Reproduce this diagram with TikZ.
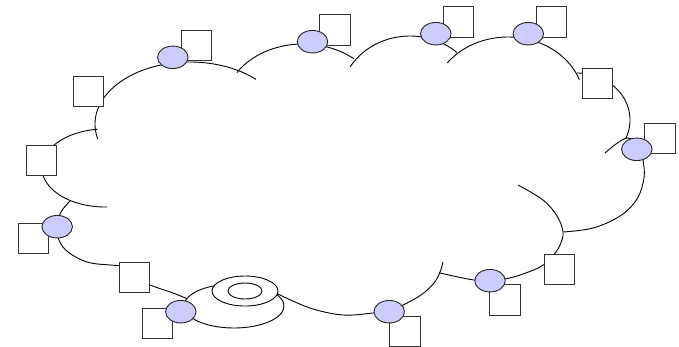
\documentclass[tikz,border=0pt]{standalone}
\usetikzlibrary{shapes.geometric}
\definecolor{lav}{RGB}{204,204,255}
\begin{document}
\begin{tikzpicture}[x=1pt,y=-1pt,
  puff/.style={draw=black, line width=0.9pt},
  box/.style={rectangle, draw=black!80, line width=1pt, fill=white, minimum size=30.3pt, inner sep=0pt},
  port/.style={ellipse, draw=black!85, line width=0.9pt, fill=lav, minimum width=30.5pt, minimum height=22.5pt, inner sep=0pt},
  disk/.style={ellipse, draw=black, line width=0.9pt, fill=white, inner sep=0pt}]
\useasboundingbox (0,0) rectangle (679,346);
% cloud outline
\draw[puff] plot[domain=166:314, samples=60, variable=\t] ({190+95*cos(\t)}, {124+62*sin(\t)});
\draw[puff] plot[domain=88:263, samples=60, variable=\t] ({105+63*cos(\t)}, {168+39*sin(\t)});
\draw[puff] plot[domain=212:311, samples=50, variable=\t] ({303+78*cos(\t)}, {105+61*sin(\t)});
\draw[puff] plot[domain=211:312, samples=50, variable=\t] ({410+70*cos(\t)}, {100+64*sin(\t)});
\draw[puff] plot[domain=217:340, samples=50, variable=\t] ({508+76*cos(\t)}, {102+65*sin(\t)});
\draw[puff] plot[domain=270:383, samples=50, variable=\t] ({577+53*cos(\t)}, {120+47*sin(\t)});
\draw[puff] plot[smooth, tension=0.6] coordinates {(605,153) (616,144) (628,138) (639,145) (643,160) (644,178) (637,199) (620,216) (593,228) (563,232)};
\draw[puff] plot[smooth, tension=0.6] coordinates {(518,185) (543,200) (557,216) (563,232) (560,245) (552,257) (540,267) (520,275) (505,279) (490,281) (474,280) (458,277) (440,273)};
\draw[puff] plot[smooth, tension=0.6] coordinates {(278,294) (310,308) (343,315) (373,313) (389,311) (403,305) (421,295) (434,283) (440,272) (443,262)};
\draw[puff] plot[smooth, tension=0.6] coordinates {(70,201) (61,212) (57,226) (59,240) (68,252) (87,262) (110,265) (130,266)};
\draw[puff] plot[smooth, tension=0.6] coordinates {(132,277) (150,285) (173,293) (188,299)};
% ring
\node[disk, minimum width=100pt, minimum height=44pt] (rb) at (234,306) {};
\node[disk, minimum width=66pt, minimum height=30pt] (ro) at (245,291) {};
\node[disk, minimum width=34pt, minimum height=16pt] (ri) at (245,291) {};
% boxes
\node[box] (s1) at (196.2,45.5) {};
\node[box] (s2) at (88.2,91.5) {};
\node[box] (s3) at (41.7,160.8) {};
\node[box] (s4) at (335,30) {};
\node[box] (s5) at (458.5,22) {};
\node[box] (s6) at (551.5,22) {};
\node[box] (s7) at (597.5,83.8) {};
\node[box] (s8) at (660,138.3) {};
\node[box] (s9) at (33.8,238.3) {};
\node[box] (s10) at (134.5,277.2) {};
\node[box] (s11) at (157.3,323.3) {};
\node[box] (s12) at (559.2,269.2) {};
\node[box] (s13) at (505,300) {};
\node[box] (s14) at (405,331.3) {};
% ports
\node[port] (e1) at (172.8,57.3) {};
\node[port] (e2) at (312.5,41.7) {};
\node[port] (e3) at (435.8,33.7) {};
\node[port] (e4) at (528.3,33.7) {};
\node[port] (e5) at (636.8,149.3) {};
\node[port] (e6) at (57.2,226.7) {};
\node[port] (e7) at (180.8,311.7) {};
\node[port] (e8) at (490,280.7) {};
\node[port] (e9) at (389.2,311.7) {};
\end{tikzpicture}
\end{document}
